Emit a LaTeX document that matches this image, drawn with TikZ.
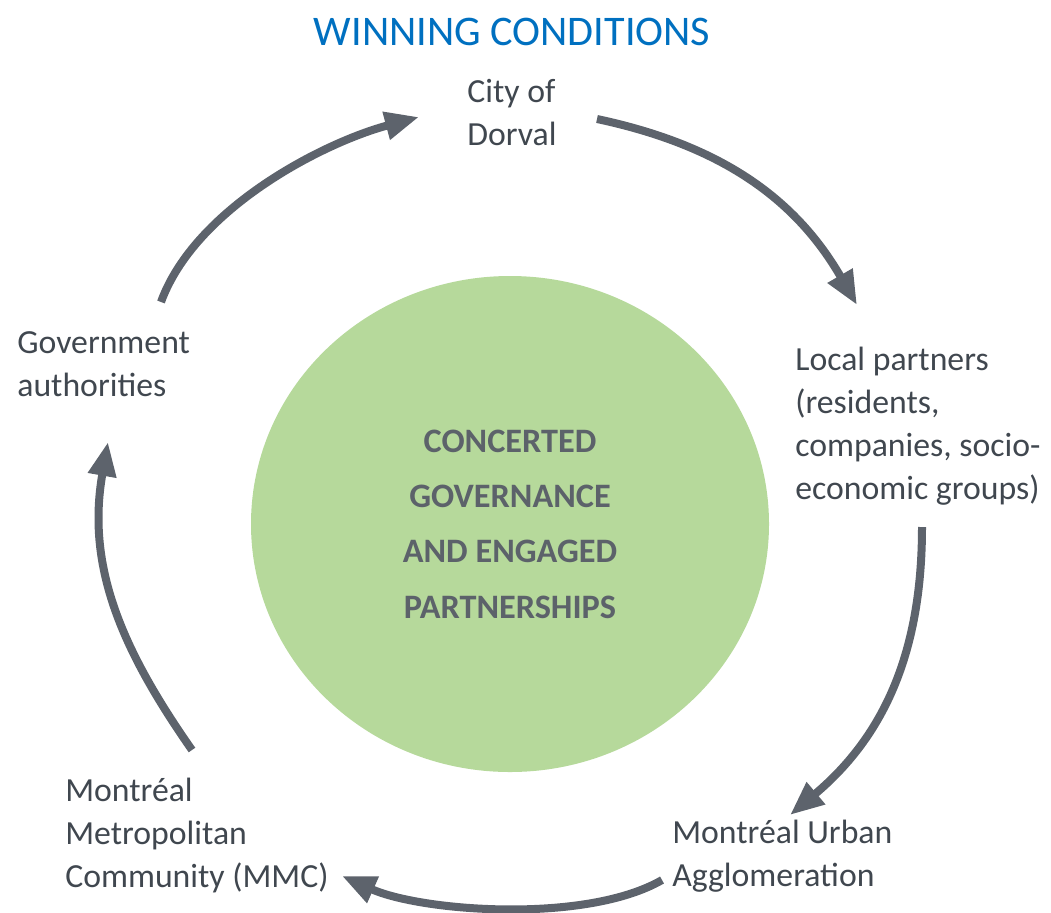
\documentclass[tikz,border=0pt]{standalone}
\usepackage{fontspec}
\setmainfont{Carlito}
\usepackage{tikz}
\usetikzlibrary{shapes.geometric,arrows.meta}
\definecolor{WinBlue}{RGB}{0,112,192}
\definecolor{HubGreen}{RGB}{182,217,155}
\definecolor{ArrowGray}{RGB}{93,99,108}
\definecolor{TextGray}{RGB}{64,71,79}
\definecolor{HubText}{RGB}{92,98,106}

\begin{document}
\begin{tikzpicture}[
  lbl/.style={anchor=west,inner sep=0pt,align=left,text=TextGray,
              font=\fontsize{19.2}{24.4}\selectfont},
  hub/.style={ellipse,fill=HubGreen,minimum width=10.36cm,minimum height=9.92cm,
              inner sep=0pt,align=center,text=HubText,
              font=\bfseries\fontsize{19.5}{31.5}\selectfont},
  flow/.style={line width=0.16cm,draw=ArrowGray,
               -{Triangle[length=0.68cm,width=0.54cm]}},
]
\useasboundingbox (0,0) rectangle (21.02,-18.24);
\node[font=\fontsize{24}{29}\selectfont,text=WinBlue,anchor=base] (title) at (10.24,-0.9) {WINNING CONDITIONS};
\node[hub] (hub) at (10.2,-10.48) {CONCERTED\\GOVERNANCE\\AND ENGAGED\\PARTNERSHIPS};
\node[lbl] (city) at (9.34,-2.25) {City of\\Dorval};
\node[lbl] (gov) at (0.34,-7.29) {Government\\authorities};
\node[lbl] (local) at (15.9,-8.52) {Local partners\\(residents,\\companies, socio-\\economic groups)};
\node[lbl] (urban) at (13.44,-17.13) {Montréal Urban\\Agglomeration};
\node[lbl] (mmc) at (1.3,-16.71) {Montréal\\Metropolitan\\Community (MMC)};
\draw[flow] ([shift={(2.88,1.25)}]gov.west) to[out=70,in=195,looseness=0.8] ([shift={(-0.96,-0.09)}]city.west);
\draw[flow] ([shift={(2.6,-0.13)}]city.west) to[out=-12,in=120] ([shift={(1.24,2.42)}]local.west);
\draw[flow] ([shift={(2.54,-2.02)}]local.west) to[out=-90,in=40] ([shift={(2.36,0.83)}]urban.west);
\draw[flow] ([shift={(-0.2,-0.47)}]urban.west) to[out=210,in=-24,looseness=0.7] ([shift={(5.54,-0.81)}]mmc.west);
\draw[flow] ([shift={(2.54,1.71)}]mmc.west) to[out=125,in=260] ([shift={(1.82,-1.55)}]gov.west);
\end{tikzpicture}
\end{document}
